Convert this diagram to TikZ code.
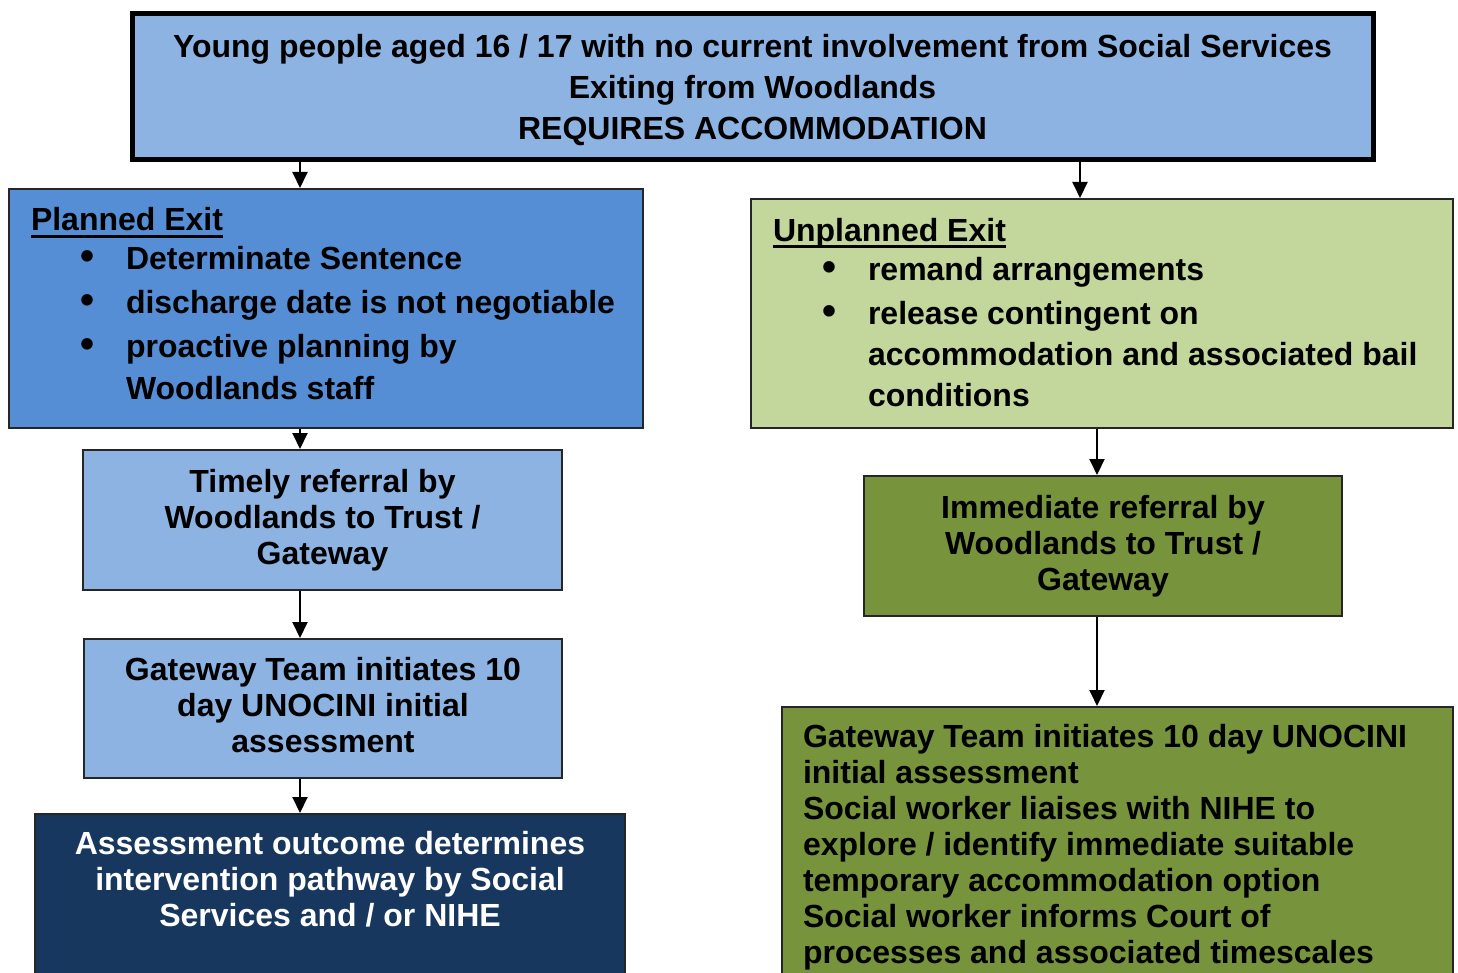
\documentclass[tikz,border=0pt]{standalone}
\usepackage{fontspec}
\setmainfont{Liberation Sans}
\usetikzlibrary{arrows.meta}

\definecolor{topblue}{HTML}{8DB3E2}
\definecolor{midblue}{HTML}{558ED5}
\definecolor{navyblue}{HTML}{17375E}
\definecolor{palegreen}{HTML}{C3D69B}
\definecolor{olivegreen}{HTML}{77933C}

% underlined heading with a rule that crosses the descenders
\newcommand\headline[1]{\leavevmode\setbox0=\hbox{#1}\rlap{\rule[-7pt]{\wd0}{3pt}}\box0}
% bullet item, continuation lines use \itmgap
\newcommand\itm{\hspace*{49pt}\makebox[46pt][l]{\fontsize{40}{40}\selectfont\textbullet}}
\newcommand\itmgap{\hspace*{95pt}}
% invisible struts to nudge text inside a box
\newcommand\uppad[1]{\rule{0pt}{#1}}
\newcommand\downpad[1]{\rule[-#1]{0pt}{0pt}}

\begin{document}
\begin{tikzpicture}[x=1pt,y=-1pt,>={Triangle[width=15pt,length=16pt]},
  font=\bfseries\fontsize{32}{36}\selectfont]

\tikzset{%
every box/.style={
draw=black!85,
line width=2pt,
inner sep=0pt,
align=center
},
flow/.style={->, line width=2pt},
}

\useasboundingbox (0,0) rectangle (1458,973);
\clip (0,0) rectangle (1458,973);

% Top box
\node [every box, fill=topblue, draw=black, line width=5pt, minimum width=1241pt, minimum height=146pt,
font=\bfseries\fontsize{32}{41}\selectfont] (top) at (752.5,87)
{\uppad{29pt}Young people aged 16 / 17 with no current involvement from Social Services\\
Exiting from Woodlands\\
REQUIRES ACCOMMODATION};

% Planned exit column
\node [every box, fill=midblue, minimum width=634pt, minimum height=239pt] (planned) at (326,308.5)
{\parbox{590pt}{\fontsize{32}{44}\selectfont
\headline{Planned Exit}\\[-5pt]
\itm Determinate Sentence\\
\itm discharge date is not negotiable\\
\itm proactive planning by\\[-2pt]
\itmgap Woodlands staff\downpad{10pt}}};

\node [every box, fill=topblue, minimum width=479pt, minimum height=140pt] (timely) at (322.5,520)
{Timely referral by\\ Woodlands to Trust /\\ Gateway};

\node [every box, fill=topblue, minimum width=478pt, minimum height=139pt] (gatewayl) at (323,708.5)
{Gateway Team initiates 10\\ day UNOCINI initial\\ assessment\downpad{7pt}};

\node [every box, fill=navyblue, text=white, anchor=north, minimum width=590pt] (outcome) at (330,813)
{\parbox[c][260pt][t]{560pt}{\centering\vspace*{17pt}
Assessment outcome determines\\ intervention pathway by Social\\ Services and / or NIHE}};

% Unplanned exit column
\node [every box, fill=palegreen, minimum width=702pt, minimum height=229pt] (unplanned) at (1102,313.5)
{\parbox{658pt}{\fontsize{32}{41}\selectfont
\headline{Unplanned Exit}\\[-2pt]
\itm remand arrangements\\[3pt]
\itm release contingent on\\
\itmgap accommodation and associated bail\\
\itmgap conditions\downpad{3pt}}};

\node [every box, fill=olivegreen, minimum width=478pt, minimum height=140pt] (immediate) at (1103,546)
{Immediate referral by\\ Woodlands to Trust /\\ Gateway};

\node [every box, fill=olivegreen, anchor=north, minimum width=671pt] (gatewayr) at (1117.5,706)
{\parbox[c][300pt][t]{629pt}{\raggedright\vspace*{17pt}
Gateway Team initiates 10 day UNOCINI\\
initial assessment\\
Social worker liaises with NIHE to\\
explore / identify immediate suitable\\
temporary accommodation option\\
Social worker informs Court of\\
processes and associated timescales}};

% Connectors
\coordinate (lx) at (300,0);
\coordinate (rx) at (1080,0);
\coordinate (ry) at (1097,0);

\draw [flow] (top.south -| lx) -- (planned.north -| lx);
\draw [flow] (top.south -| rx) -- (unplanned.north -| rx);
\draw [flow] (planned.south -| lx) -- (timely.north -| lx);
\draw [flow] (timely.south -| lx) -- (gatewayl.north -| lx);
\draw [flow] (gatewayl.south -| lx) -- (outcome.north -| lx);
\draw [flow] (unplanned.south -| ry) -- (immediate.north -| ry);
\draw [flow] (immediate.south -| ry) -- (gatewayr.north -| ry);

\end{tikzpicture}
\end{document}
